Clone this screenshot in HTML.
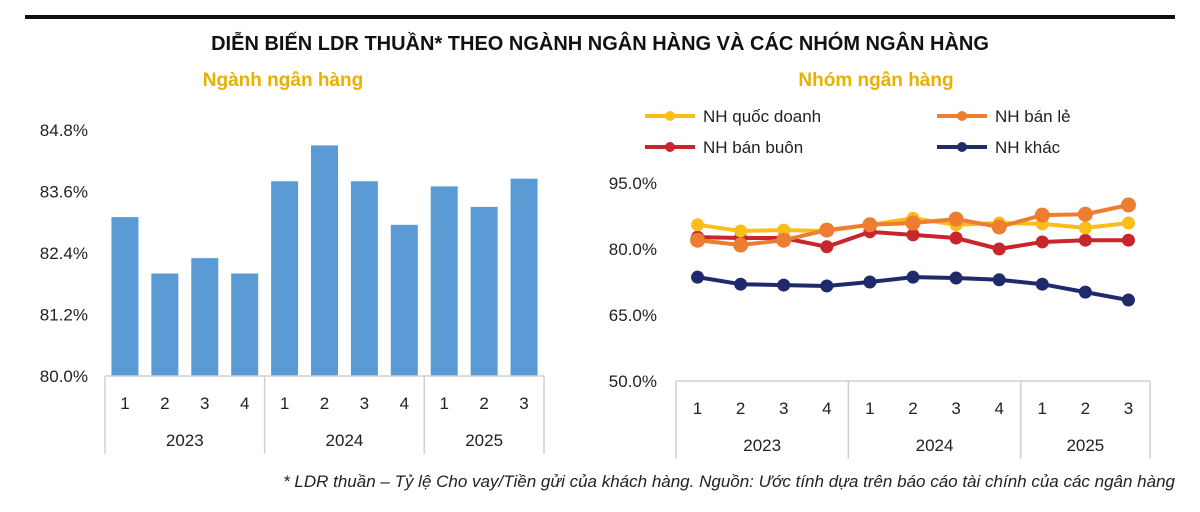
<!DOCTYPE html>
<html><head><meta charset="utf-8">
<style>
html,body{margin:0;padding:0;background:#fff;}
body{width:1200px;height:507px;overflow:hidden;font-family:"Liberation Sans","DejaVu Sans",sans-serif;}
svg text{font-family:"Liberation Sans","DejaVu Sans",sans-serif;}
</style></head>
<body>
<svg id="c" width="1200" height="507" xmlns="http://www.w3.org/2000/svg">
<rect x="25" y="15" width="1150" height="4" fill="#111"/>
<text x="600" y="50" text-anchor="middle" font-size="20" font-weight="bold" fill="#111">DIỄN BIẾN LDR THUẦN* THEO NGÀNH NGÂN HÀNG VÀ CÁC NHÓM NGÂN HÀNG</text>
<text x="283" y="86" text-anchor="middle" font-size="19" font-weight="bold" fill="#e8b100">Ngành ngân hàng</text>
<text x="876" y="86" text-anchor="middle" font-size="19" font-weight="bold" fill="#e8b100">Nhóm ngân hàng</text>
<text x="1175" y="487" text-anchor="end" font-size="17" font-style="italic" fill="#222">* LDR thuần – Tỷ lệ Cho vay/Tiền gửi của khách hàng. Nguồn: Ước tính dựa trên báo cáo tài chính của các ngân hàng</text>
<g id="left"></g>
<g id="right"></g>
</svg>
<script>
const quarters = ["1","2","3","4","1","2","3","4","1","2","3"];
const years = ["2023","2024","2025"];
const yearSpans = [4,4,3];
const industryLDR = [83.1,82.0,82.3,82.0,83.8,84.5,83.8,82.95,83.7,83.3,83.85];
const leftTicks = [80.0,81.2,82.4,83.6,84.8];
const rightTicks = [50,65,80,95];
const seriesNames = ["NH quốc doanh","NH bán lẻ","NH bán buôn","NH khác"];
const stateBanks = [85.5,84.1,84.3,84.1,85.5,87.0,85.5,85.9,85.7,84.8,85.9];
const retailBanks = [82.0,80.9,82.0,84.3,85.5,85.9,86.8,85.0,87.7,87.9,90.0];
const wholesaleBanks = [82.7,82.5,82.5,80.5,83.9,83.2,82.5,80.0,81.6,82.0,82.0];
const otherBanks = [73.6,72.0,71.8,71.6,72.5,73.6,73.4,73.0,72.0,70.2,68.4];

const NS="http://www.w3.org/2000/svg";
function mk(parent,tag,attrs,txt){const e=document.createElementNS(NS,tag);for(const k in attrs)e.setAttribute(k,attrs[k]);if(txt!==undefined)e.textContent=txt;parent.appendChild(e);return e;}

// Left chart
const L=document.getElementById('left');
const lx0=105,lx1=544,lBase=376,lTop=130;
const ly=v=>lBase-(v-80)/(84.8-80)*(lBase-lTop);
const lstep=(lx1-lx0)/quarters.length;
const lcx=i=>lx0+lstep*(i+0.5);
leftTicks.forEach(t=>{
  const e=mk(L,'text',{x:88,y:ly(t)+6,'text-anchor':'end','font-size':17,fill:'#222'},t.toFixed(1)+'%');
  
  
});
industryLDR.forEach((v,i)=>{
  const r=mk(L,'rect',{x:lcx(i)-13.5,y:ly(v),width:27,height:lBase-ly(v),fill:'#5b9bd5'});
  
  
});
function catAxis(G,x0,x1,base,cx,prefix){
  const a=mk(G,'line',{x1:x0,y1:base,x2:x1,y2:base,stroke:'#d0d0d0','stroke-width':1.5});
  
  
  quarters.forEach((q,i)=>{
    const t=mk(G,'text',{x:cx(i),y:base+33,'text-anchor':'middle','font-size':17,fill:'#222'},q);
    
    
  });
  const step=(x1-x0)/quarters.length;
  let idx=0;
  const seps=[x0];
  years.forEach((y,j)=>{
    const s=x0+idx*step, e=x0+(idx+yearSpans[j])*step;
    const t=mk(G,'text',{x:(s+e)/2,y:base+70,'text-anchor':'middle','font-size':17,fill:'#222'},y);
    
    
    idx+=yearSpans[j];seps.push(e);
  });
  seps.forEach(x=>{
    const l=mk(G,'line',{x1:x,y1:base,x2:x,y2:base+78,stroke:'#d0d0d0','stroke-width':1.5});
    
    
  });
}
catAxis(L,lx0,lx1,lBase,lcx,'left');

// Right chart
const R=document.getElementById('right');
const rx0=676,rx1=1150,rBase=381,rTop=183;
const ry=v=>rBase-(v-50)/(95-50)*(rBase-rTop);
const rstep=(rx1-rx0)/quarters.length;
const rcx=i=>rx0+rstep*(i+0.5);
rightTicks.forEach(t=>{
  const e=mk(R,'text',{x:657,y:ry(t)+6,'text-anchor':'end','font-size':17,fill:'#222'},t.toFixed(1)+'%');
  
  
});
catAxis(R,rx0,rx1,rBase,rcx,'right');
const seriesData=[stateBanks,retailBanks,wholesaleBanks,otherBanks];
const colors=['#fbbd19','#ed7d31','#c8252c','#1f2a6b'];
const radii=[6.5,7.5,6.5,6.5];
const keys=['state-banks','retail-banks','wholesale-banks','other-banks'];
const order=[3,2,0,1];
order.forEach(s=>{
  const d=seriesData[s];
  const pl=mk(R,'polyline',{points:d.map((v,i)=>rcx(i)+','+ry(v)).join(' '),fill:'none',stroke:colors[s],'stroke-width':4,'stroke-linejoin':'round'});
  
  
  d.forEach((v,i)=>{
    const c=mk(R,'circle',{cx:rcx(i),cy:ry(v),r:radii[s],fill:colors[s]});
    
    
  });
});
// Legend
const legPos=[[645,116],[937,116],[645,147],[937,147]];
seriesNames.forEach((n,s)=>{
  const [x,y]=legPos[s];
  const g=mk(R,'g',{});
  
  
  mk(g,'line',{x1:x,y1:y,x2:x+50,y2:y,stroke:colors[s],'stroke-width':4});
  mk(g,'circle',{cx:x+25,cy:y,r:5,fill:colors[s]});
  mk(g,'text',{x:x+58,y:y+6,'font-size':17,fill:'#222'},n);
});
</script>
</body></html>
